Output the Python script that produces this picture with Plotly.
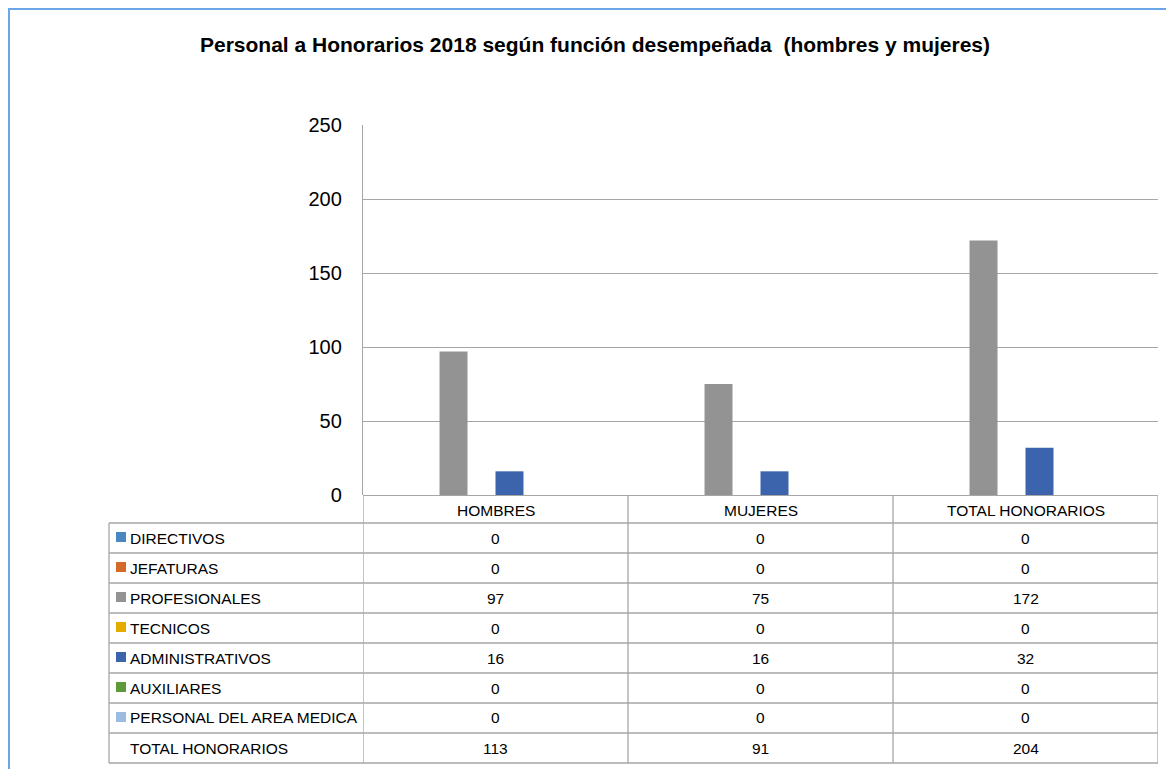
import plotly.graph_objects as go

categories = ["HOMBRES", "MUJERES", "TOTAL HONORARIOS"]
series_names = ["DIRECTIVOS", "JEFATURAS", "PROFESIONALES", "TECNICOS",
                "ADMINISTRATIVOS", "AUXILIARES", "PERSONAL DEL AREA MEDICA",
                "TOTAL HONORARIOS"]
directivos = [0, 0, 0]
jefaturas = [0, 0, 0]
profesionales = [97, 75, 172]
tecnicos = [0, 0, 0]
administrativos = [16, 16, 32]
auxiliares = [0, 0, 0]
personal_medica = [0, 0, 0]
total_honorarios = [113, 91, 204]
series_values = [directivos, jefaturas, profesionales, tecnicos,
                 administrativos, auxiliares, personal_medica, total_honorarios]
colors = ["#4A86C0", "#D46A2A", "#939393", "#E5AC00", "#3B64AD", "#5F9A3A",
          "#9BBBE1", "rgba(0,0,0,0)"]
title = "Personal a Honorarios 2018 según función desempeñada  (hombres y mujeres)"

FONT = "Liberation Sans, Arial, sans-serif"
OFF = 8  # page body margin
W, H = 1174 - OFF, 769 - OFF
# plot area in page pixels: x 363..1158, y 125..495
L, T = 363 - OFF, 125 - OFF
R = W - (1158 - OFF)
B = H - (495 - OFF)
PW, PH = W - L - R, H - T - B
GRID = "#A6A6A6"


def px(x):
    """page pixel x -> paper"""
    return (x - OFF - L) / PW


def py(y):
    """page pixel y -> paper"""
    return (H - B - (y - OFF)) / PH


fig = go.Figure()
xi = list(range(len(categories)))
for name, vals, col in zip(series_names, series_values, colors):
    fig.add_trace(go.Bar(x=xi, y=vals, name=name, marker=dict(color=col, line=dict(width=0)),
                         hoverinfo="skip" if col.startswith("rgba") else None))

shapes = []
annotations = []
line = dict(color=GRID, width=1.3)

hdr_top, hdr_bot = 495, 523
row_h = 30
n_rows = len(series_names)
tbl_bot = hdr_bot + row_h * n_rows
tbl_left = 109
TXT = dict(family=FONT, size=15.5, color="#000")

for b in [-0.5 + i for i in range(len(categories) + 1)]:
    shapes.append(dict(type="line", xref="x", yref="paper", x0=b, x1=b,
                       y0=py(hdr_top), y1=py(tbl_bot), line=line))
shapes.append(dict(type="line", xref="paper", yref="paper", x0=px(tbl_left), x1=px(tbl_left),
                   y0=py(hdr_bot), y1=py(tbl_bot), line=line))
for k in range(n_rows + 1):
    yy = hdr_bot + row_h * k
    shapes.append(dict(type="line", xref="paper", yref="paper", x0=px(tbl_left), x1=1,
                       y0=py(yy), y1=py(yy), line=line))

for i, c in enumerate(categories):
    annotations.append(dict(text=c, xref="x", yref="paper", x=i, y=py((hdr_top + hdr_bot) / 2 + 1),
                            xanchor="center", yanchor="middle", showarrow=False, font=TXT))

for r, (name, vals, col) in enumerate(zip(series_names, series_values, colors)):
    cy = hdr_bot + row_h * r + row_h / 2
    annotations.append(dict(text=name, xref="paper", yref="paper", x=px(128), y=py(cy),
                            xanchor="left", yanchor="middle", showarrow=False, font=TXT))
    if not col.startswith("rgba"):
        shapes.append(dict(type="rect", xref="paper", yref="paper", x0=px(116), x1=px(126),
                           y0=py(cy - 6), y1=py(cy + 4), fillcolor=col, line=dict(width=0)))
    for i, v in enumerate(vals):
        annotations.append(dict(text=str(v), xref="x", yref="paper", x=i, y=py(cy),
                                xanchor="center", yanchor="middle", showarrow=False, font=TXT))

# outer frame
shapes.append(dict(type="rect", xref="paper", yref="paper", x0=px(9), x1=px(1200),
                   y0=py(9), y1=py(800), line=dict(color="#6AA6E8", width=2)))

fig.update_layout(
    width=W, height=H,
    margin=dict(l=L, r=R, t=T, b=B),
    paper_bgcolor="white", plot_bgcolor="white",
    barmode="group", bargap=0.155, bargroupgap=0,
    showlegend=False,
    title=dict(text="<b>" + title + "</b>", xref="container", yref="container",
               x=(595 - OFF) / W, y=1 - (45 - OFF) / H, xanchor="center", yanchor="middle",
               font=dict(family=FONT, size=21, color="#000")),
    xaxis=dict(range=[-0.5, 2.5], showticklabels=False, showgrid=False, zeroline=False,
               showline=False, fixedrange=True),
    yaxis=dict(range=[0, 250], tickvals=[0, 50, 100, 150, 200, 250], showgrid=True,
               gridcolor=GRID, gridwidth=1.3, zeroline=True, zerolinecolor=GRID,
               zerolinewidth=1.3, showline=True, linecolor=GRID, linewidth=1.3,
               ticks="", ticklabelstandoff=16,
               tickfont=dict(family=FONT, size=20, color="#000"), fixedrange=True),
    shapes=shapes, annotations=annotations,
)
fig.write_html("out.html")
